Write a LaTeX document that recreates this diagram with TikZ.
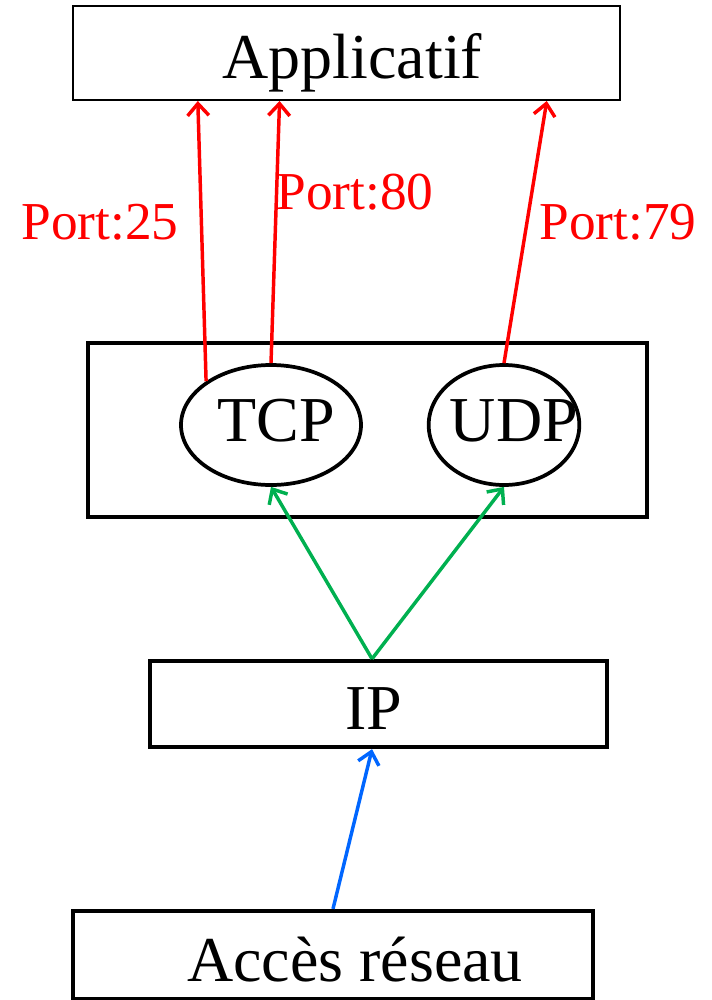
\documentclass[tikz,border=0pt]{standalone}
\usepackage{fontspec}
\setmainfont{Liberation Serif}
\usetikzlibrary{shapes.geometric,arrows.meta,calc}
\definecolor{portred}{RGB}{255,0,0}
\definecolor{ipgreen}{RGB}{0,176,80}
\definecolor{netblue}{RGB}{0,102,255}

\begin{document}
\begin{tikzpicture}[x=0.75pt,y=-0.75pt,
    caption/.style={font=\fontsize{48}{50}\selectfont},
    layer/.style={draw, line width=3.2pt, inner sep=0pt},
    proto/.style={ellipse, draw, line width=2.8pt, inner sep=0pt, minimum height=90pt},
    port/.style={node font=\fontsize{40}{42}\selectfont, text=portred},
    flow/.style={line width=2.6pt, -{Straight Barb[length=9pt,width=16pt]}}]

    \useasboundingbox (0,0) rectangle (712,1000);

    \node[layer, line width=1.5pt, minimum width=410pt, minimum height=70.5pt,
          label={[caption, xshift=4.5pt, yshift=-7.5pt]center:Applicatif}] (app) at (346.5,53) {};
    \node[layer, minimum width=419pt, minimum height=130.5pt] (transport) at (367.5,430) {};
    \node[proto, minimum width=135pt,
          label={[caption, xshift=3.75pt, yshift=3pt]center:TCP}] (tcp) at (271,425) {};
    \node[proto, minimum width=113pt,
          label={[caption, xshift=7.5pt, yshift=3pt]center:UDP}] (udp) at (504,425) {};
    \node[layer, minimum width=343pt, minimum height=64.5pt,
          label={[caption, xshift=-3.75pt, yshift=-3.75pt]center:IP}] (ip) at (378.5,704) {};
    \node[layer, minimum width=390pt, minimum height=66pt,
          label={[caption, xshift=16.5pt, yshift=-3.75pt]center:Accès réseau}] (acces) at (333,955) {};

    \node[port] (p25) at (100,222) {Port:25};
    \node[port] (p80) at (355,192) {Port:80};
    \node[port] (p79) at (618,222) {Port:79};

    \draw[flow, portred] (tcp.146) -- ($(app.south west)!0.229!(app.south east)$);
    \draw[flow, portred] (tcp.north) -- ($(app.south west)!0.378!(app.south east)$);
    \draw[flow, portred] (udp.north) -- ($(app.south west)!0.865!(app.south east)$);

    \draw[flow, ipgreen] ($(ip.north west)!0.486!(ip.north east)$) -- (tcp.south);
    \draw[flow, ipgreen] ($(ip.north west)!0.486!(ip.north east)$) -- (udp.south);

    \draw[flow, netblue] (acces.north) -- ($(ip.south west)!0.486!(ip.south east)$);

\end{tikzpicture}
\end{document}
